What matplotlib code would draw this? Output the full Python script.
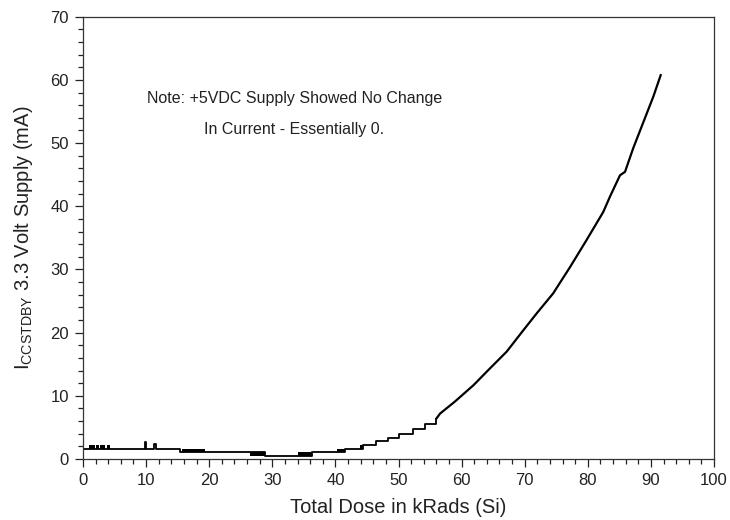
import matplotlib
matplotlib.use("Agg")
import matplotlib.pyplot as plt
from matplotlib.ticker import MultipleLocator

plt.rcParams['font.family'] = ['Liberation Sans', 'DejaVu Sans']
plt.rcParams['mathtext.fontset'] = 'custom'
plt.rcParams['mathtext.rm'] = 'Liberation Sans'
plt.rcParams['mathtext.it'] = 'Liberation Sans'

# Low-dose region: quantized step levels (dose kRads, current mA)
step_dose = [0.0, 9.6, 9.75, 10.05, 11.2, 11.6, 15.3, 28.8, 36.3, 41.5, 44.4,
             46.5, 48.4, 50.0, 52.3, 54.2, 56.0]
step_current = [1.6, 1.6, 2.7, 1.6, 2.3, 1.6, 1.1, 0.5, 1.1, 1.6, 2.25,
                2.9, 3.3, 3.9, 4.8, 5.6, 6.4]

# Toggling regions (drawn as solid blocks)
band_start = [0.9, 2.06, 2.75, 3.8, 15.7, 26.5, 34.0, 40.2, 43.9]
band_end = [1.85, 2.6, 3.5, 4.3, 19.4, 28.8, 36.3, 41.5, 44.4]
band_low = [1.6, 1.6, 1.6, 1.6, 1.1, 0.5, 0.5, 1.1, 1.6]
band_high = [2.2, 2.2, 2.2, 2.2, 1.6, 1.1, 1.1, 1.6, 2.25]

# High-dose region readings
curve_dose = [56.0, 56.6, 58.95, 61.9, 64.5, 67.15, 69.8, 71.9, 74.5, 77.2,
              79.8, 82.45, 83.5, 85.1, 85.9, 87.2, 88.8, 90.4, 91.55]
curve_current = [6.4, 7.2, 9.1, 11.7, 14.35, 17.0, 20.4, 23.05, 26.2, 30.4,
                 34.65, 39.1, 41.5, 44.9, 45.45, 49.2, 53.3, 57.4, 60.75]

fig = plt.figure(figsize=(7.3, 5.2), dpi=100)
ax = fig.add_axes([0.1137, 0.1173, 0.8644, 0.8506])

ax.plot(step_dose, step_current, drawstyle='steps-post', color='black', lw=1.3)
for s, e, lo, hi in zip(band_start, band_end, band_low, band_high):
    ax.fill_between([s, e], [lo, lo], [hi, hi], color='black', lw=0)
ax.plot(curve_dose, curve_current, color='black', lw=1.6)

ax.set_xlim(0, 100)
ax.set_ylim(0, 70)
ax.xaxis.set_major_locator(MultipleLocator(10))
ax.xaxis.set_minor_locator(MultipleLocator(2))
ax.yaxis.set_major_locator(MultipleLocator(10))
ax.yaxis.set_minor_locator(MultipleLocator(2))
ax.tick_params(which='major', direction='out', length=6, width=0.9, labelsize=12,
               colors='#222222', pad=4)
ax.tick_params(which='minor', direction='out', length=3.5, width=0.9, colors='#222222')
for sp in ax.spines.values():
    sp.set_color('#333333')
    sp.set_linewidth(0.9)

ax.set_xlabel('Total Dose in kRads (Si)', fontsize=14.5, color='#222222')
ax.set_ylabel(r'I$_{\mathrm{CCSTDBY}}$ 3.3 Volt Supply (mA)', fontsize=14.5, color='#222222')
ax.xaxis.set_label_coords(0.5, -0.088)
ax.yaxis.set_label_coords(-0.076, 0.5)

ax.text(33.5, 57.0, 'Note: +5VDC Supply Showed No Change', ha='center', va='center',
        fontsize=11.5, color='#222222')
ax.text(33.5, 52.1, 'In Current - Essentially 0.', ha='center', va='center',
        fontsize=11.5, color='#222222')

fig.savefig('out.png', dpi=100)
